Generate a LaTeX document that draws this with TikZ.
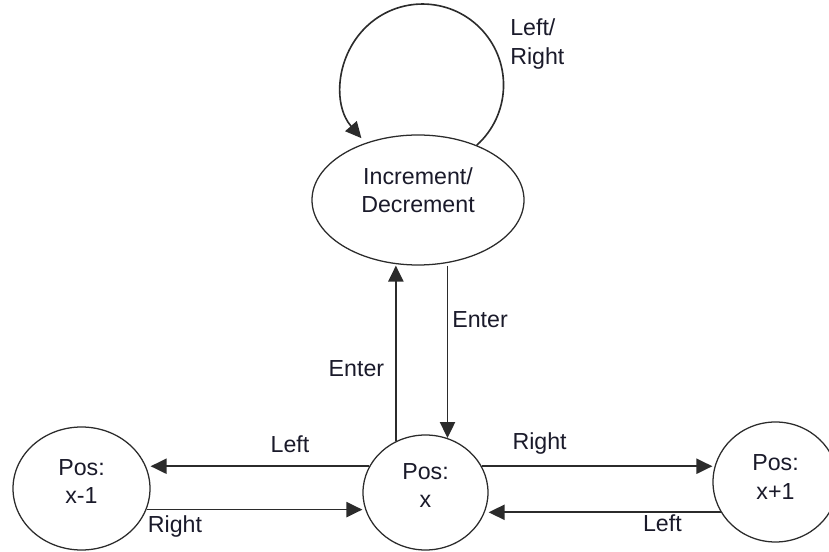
\documentclass[tikz,border=0pt]{standalone}
\usepackage{fontspec}
\setmainfont{Liberation Sans}
\usepackage{xcolor}
\usetikzlibrary{positioning,arrows.meta,shapes.geometric}
\definecolor{LineDark}{HTML}{2B2B2B}
\definecolor{TextDark}{HTML}{1A1A2A}

\begin{document}
\begin{tikzpicture}[
      st/.style={ellipse, draw=LineDark, line width=0.9pt, fill=white,
                 text=TextDark, align=center, inner sep=0pt,
                 font=\fontsize{16.5}{20}\selectfont},
      lbl/.style={text=TextDark, inner sep=0pt,
                  font=\fontsize{16.5}{20}\selectfont},
      ar/.style={-{Triangle[length=4mm, width=3.8mm]}, LineDark, line width=1.15pt},
    ]
      \useasboundingbox (0,0) rectangle (20.725,13.8);
      \node[st, minimum width=5.3cm, minimum height=3.25cm, text depth=14pt]
           (inc) at (10.45, 8.8) {Increment/\\Decrement};
      \node[st, minimum width=3.125cm, minimum height=2.875cm, text depth=10pt]
           (px)  at (10.6375, 1.4875) {Pos:\\x};
      \node[st, minimum width=3.425cm, minimum height=3.075cm, text depth=10pt]
           (pxm) at (2.0375, 1.5875) {Pos:\\x-1};
      \node[st, minimum width=3.125cm, minimum height=3.0cm, text depth=7pt]
           (pxp) at (19.3875, 1.75) {Pos:\\x+1};
      % self loop
      \draw[ar] (inc.43) arc[start angle=-48, end angle=221, radius=2.025cm];
      \node[lbl, align=left, anchor=west] (loopLbl) at (12.75, 12.7) {Left/\\Right};
      % enter arrows
      \draw[ar] (px.120) -- (px.120 |- inc.south);
      \draw[ar] (px.68 |- inc.south) -- (px.68);
      \node[lbl, anchor=base] (enterUp) at (8.91, 4.375) {Enter};
      \node[lbl, anchor=base] (enterDn) at (12.0, 5.6) {Enter};
      % left / right moves
      \draw[ar] (px.155) -- (px.155 -| pxm.east);
      \draw[ar] (pxm.-18) -- (pxm.-18 -| px.west);
      \draw[ar] (px.25) -- (px.25 -| pxp.west);
      \draw[ar] (pxp.209) -- (pxp.209 -| px.east);
      \node[lbl, anchor=base] (leftA)  at (7.25, 2.475) {Left};
      \node[lbl, anchor=base] (rightA) at (4.375, 0.475) {Right};
      \node[lbl, anchor=base] (rightB) at (13.49, 2.55) {Right};
      \node[lbl, anchor=base] (leftB)  at (16.56, 0.5) {Left};
    \end{tikzpicture}
\end{document}
